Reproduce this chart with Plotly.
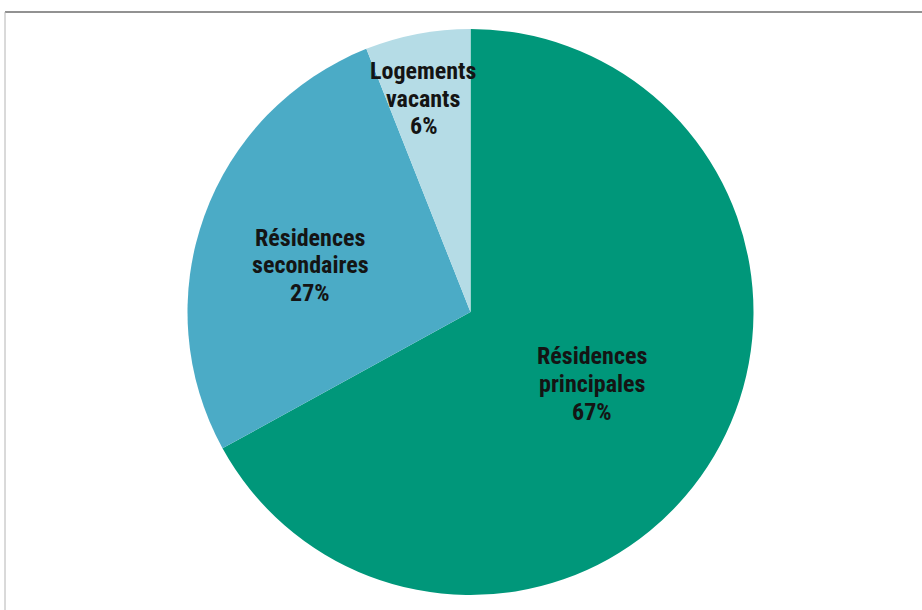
import plotly.graph_objects as go

# Répartition du parc de logements
labels = ["Résidences principales", "Résidences secondaires", "Logements vacants"]
label_lines = [["Résidences", "principales"], ["Résidences", "secondaires"], ["Logements", "vacants"]]
values = [67, 27, 6]
colors = ["#00977A", "#4BABC6", "#B5DCE6"]

W, H = 922, 610

fig = go.Figure()
fig.add_trace(go.Pie(
    labels=labels,
    values=values,
    sort=False,
    direction="clockwise",
    rotation=0,
    marker=dict(colors=colors, line=dict(width=0)),
    textinfo="none",
    hoverinfo="label+percent",
    showlegend=False,
    domain=dict(x=[187 / W, 754 / W], y=[1 - 595 / H, 1 - 29 / H]),
))

# label anchors: pixel centre of each text block, and line spacing
label_pos = [(592, 384), (310, 265), (423, 99)]
line_gap = 27.5
for lines, v, (px, py) in zip(label_lines, values, label_pos):
    rows = lines + [f"{v}%"]
    n = len(rows)
    for i, row in enumerate(rows):
        cy = py + (i - (n - 1) / 2) * line_gap
        fig.add_annotation(
            x=px / W, y=1 - cy / H, xref="paper", yref="paper",
            text=row, showarrow=False, align="center",
            xanchor="center", yanchor="middle",
            font=dict(family="Liberation Sans Narrow, Roboto Condensed, Arial Narrow, sans-serif",
                      size=24, color="#141414", weight="bold"),
        )

# frame around the chart
fig.add_shape(type="line", xref="paper", yref="paper",
              x0=5 / W, x1=1, y0=1 - 12 / H, y1=1 - 12 / H,
              line=dict(color="#6e6e6e", width=1.5))
fig.add_shape(type="line", xref="paper", yref="paper",
              x0=5 / W, x1=5 / W, y0=0, y1=1 - 12 / H,
              line=dict(color="#b4b4b4", width=1))

fig.update_layout(
    width=W, height=H,
    margin=dict(l=0, r=0, t=0, b=0),
    paper_bgcolor="white",
    plot_bgcolor="white",
)

fig.write_html("out.html")
